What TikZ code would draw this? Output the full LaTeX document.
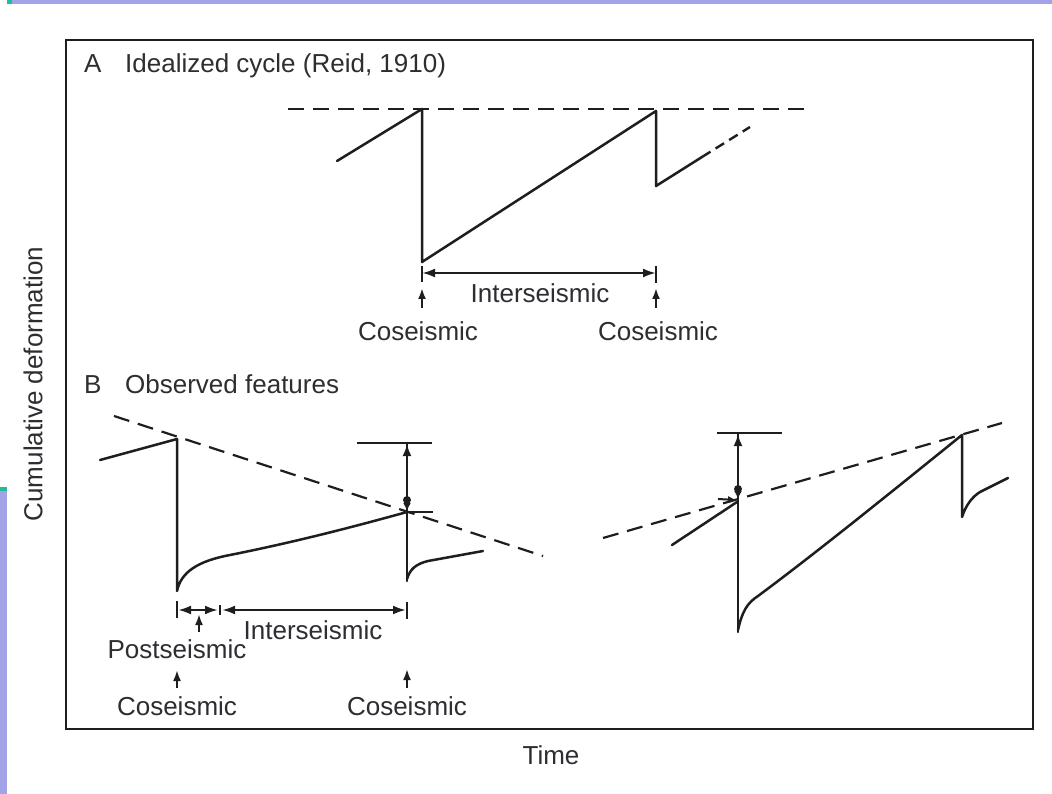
\documentclass[tikz,border=0pt]{standalone}
\usepackage{fontspec}
\setmainfont{Liberation Sans}
\usetikzlibrary{arrows.meta}
\definecolor{barpurple}{RGB}{162,162,230}
\definecolor{barteal}{RGB}{30,190,150}
\definecolor{ink}{RGB}{30,30,30}
\definecolor{txt}{RGB}{45,45,50}
\begin{document}
\begin{tikzpicture}[x=1pt,y=-1pt,
  curve/.style={ink, line width=2.5pt, line join=round, line cap=round},
  trend/.style={ink, line width=2.2pt, dash pattern=on 16pt off 9pt},
  lbl/.style={txt, font=\fontsize{26}{30}\selectfont, inner sep=0pt},
  span/.style={ink, line width=2.4pt, {Latex[length=13pt,width=9pt]}-{Latex[length=13pt,width=9pt]}},
  pointer/.style={ink, line width=2.2pt, -{Latex[length=11pt,width=8pt]}},
  endtick/.style={ink, line width=2.4pt},
  frame/.style={ink, line width=2.8pt}]
\useasboundingbox (0,0) rectangle (1052,794);
\fill[white] (0,0) rectangle (1052,794);
% slide bars
\fill[barpurple] (7,0) rectangle (1052,4);
\fill[barteal] (7,0) rectangle (12,4);
\fill[barpurple] (0,487) rectangle (7,794);
\fill[barteal] (0,487) rectangle (7,491);
% frame
\draw[frame] (66,40) rectangle (1033,729);
% axis labels
\node[lbl, rotate=90] (ylab) at (33,384) {Cumulative deformation};
\node[lbl, anchor=base] (xlab) at (551,764) {Time};
% ---------------- Panel A
\node[lbl, anchor=base west] (Aletter) at (84,73) {A};
\node[lbl, anchor=base west] (Atitle) at (125,73) {Idealized cycle (Reid, 1910)};
\coordinate (A0) at (337,161);
\coordinate (A1) at (422,109);
\coordinate (A2) at (422,262);
\coordinate (A3) at (656,111);
\coordinate (A4) at (656,186);
\coordinate (A5) at (702,157);
\coordinate (A6) at (750,127);
\coordinate (AdL) at (288,109);
\coordinate (AdR) at (806,109);
\draw[trend] (AdL) -- (AdR);
\draw[curve] (A0) -- (A1) -- (A2) -- (A3) -- (A4) -- (A5);
\draw[ink, line width=2.4pt, dash pattern=on 10pt off 6pt] (A5) -- (A6);
\coordinate (AiL) at (422,273);
\coordinate (AiR) at (656,273);
\draw[endtick] (422,266) -- (422,282);
\draw[endtick] (656,266) -- (656,283);
\draw[span] (AiL) -- (AiR);
\node[lbl, anchor=base] (Ainter) at (540,302) {Interseismic};
\node[lbl, anchor=base] (Aco1) at (418,340) {Coseismic};
\node[lbl, anchor=base] (Aco2) at (658,340) {Coseismic};
\draw[pointer] (422,308) -- (422,288);
\draw[pointer] (656,308) -- (656,288);
% ---------------- Panel B
\node[lbl, anchor=base west] (Bletter) at (84,393) {B};
\node[lbl, anchor=base west] (Btitle) at (125,393) {Observed features};
% left part
\draw[trend] (114,416) -- (543,556);
\coordinate (B0) at (100,460);
\coordinate (B1) at (177,439);
\coordinate (B2) at (177,591);
\coordinate (B3) at (407,512);
\draw[curve] (B0) -- (B1) -- (B2)
  .. controls (181,572) and (198,561) .. (230,555)
  .. controls (300,541) and (360,525) .. (B3);
\draw[curve] (407,443) -- (407,581);
\draw[curve] (407,579) .. controls (410,569) and (416,564) .. (428,561) -- (483,551);
\draw[endtick] (357,443) -- (432,443);
\draw[endtick] (B3) -- (433,512);
\draw[ink, line width=2.6pt, -{Latex[length=12pt,width=9pt]}] (407,500) -- (407,444);
\draw[ink, line width=2.6pt, -{Latex[length=8pt,width=8pt]}] (407,500) -- (407,511);
\fill[ink] (407,500) circle (4pt);
% time bar
\draw[endtick] (177,601) -- (177,618);
\draw[endtick] (407,602) -- (407,619);
\draw[endtick] (220,605) -- (220,615);
\draw[span] (178,610) -- (218,610);
\draw[span] (222,610) -- (406,610);
\node[lbl, anchor=base] (Binter) at (313,639) {Interseismic};
\node[lbl, anchor=base] (Bpost) at (177,658) {Postseismic};
\node[lbl, anchor=base] (Bco1) at (177,715) {Coseismic};
\node[lbl, anchor=base] (Bco2) at (407,715) {Coseismic};
\draw[pointer] (199,632) -- (199,614);
\draw[pointer] (177,688) -- (177,670);
\draw[pointer] (407,688) -- (407,669);
% right part
\draw[trend] (603,538) -- (1002,423);
\coordinate (C0) at (672,545);
\coordinate (C1) at (737,502);
\draw[curve] (C0) -- (C1);
\draw[ink, line width=2pt, -{Latex[length=9pt,width=7pt]}] (718,499) -- (737,500);
\draw[curve] (738,433) -- (738,632);
\draw[endtick] (717,433) -- (782,433);
\draw[ink, line width=2.6pt, -{Latex[length=12pt,width=9pt]}] (738,489) -- (738,434);
\draw[ink, line width=2.6pt, -{Latex[length=8pt,width=8pt]}] (738,489) -- (738,499);
\fill[ink] (738,489) circle (4pt);
\coordinate (C2) at (738,630);
\coordinate (C3) at (962,435);
\coordinate (C4) at (962,517);
\draw[curve] (C2) .. controls (742,612) and (747,603) .. (758,596)
  .. controls (820,550) and (900,485) .. (C3) -- (C4)
  .. controls (966,505) and (972,497) .. (980,492) -- (1008,478);
\end{tikzpicture}
\end{document}
